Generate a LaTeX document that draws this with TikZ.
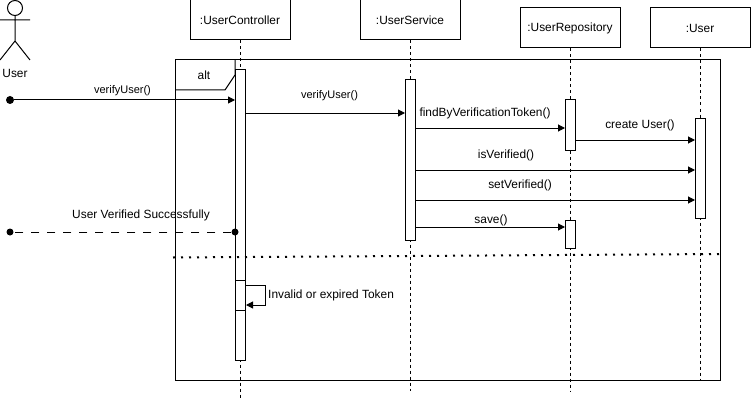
\documentclass[tikz,border=0pt]{standalone}
\usepackage{fontspec}
\setmainfont{Liberation Sans}
\usetikzlibrary{arrows.meta}
\tikzset{
  ln/.style={draw=black,line width=1pt},
  box/.style={ln,fill=white,minimum width=100pt,minimum height=40pt,inner sep=0pt,font=\fontsize{11.9pt}{14pt}\selectfont},
  act/.style={ln,fill=white,minimum width=10pt,inner sep=0pt},
  life/.style={draw=black,line width=1pt,dash pattern=on 3pt off 3pt},
  msg/.style={ln,-{Triangle[length=7pt,width=7pt]}},
  lbl/.style={inner sep=0pt,font=\fontsize{11.9pt}{14pt}\selectfont},
  slbl/.style={inner sep=0pt,font=\fontsize{11pt}{13pt}\selectfont},
  dot/.style={circle,fill=black,inner sep=0pt,minimum size=8pt}
}
\begin{document}
\begin{tikzpicture}[x=1pt,y=-1pt]
\useasboundingbox (0,0) rectangle (751,401);
\fill[white] (0,0) rectangle (751,401);
% frame
\draw[ln] (175,60) rectangle (720,380);
% lifelines
\node[box] (uc) at (240,20) {:UserController};
\node[box] (us) at (410,20) {:UserService};
\node[box] (ur) at (570,28) {:UserRepository};
\node[box] (um) at (700,28) {:User};
\coordinate (ucend) at (240,398);
\coordinate (usend) at (410,391);
\coordinate (urend) at (570,391);
\coordinate (umend) at (700,380);
\draw[life] (uc) -- (ucend);
\draw[life] (us) -- (usend);
\draw[life] (ur) -- (urend);
\draw[life] (um) -- (umend);
% alt tab
\draw[ln] (175,90) -- (225,90) -- (235,75) -- (235,60);
\node[lbl] (alt) at (204,75) {alt};
% actor
\draw[ln] (15,8) circle (7.5);
\draw[ln] (15,15.5) -- (15,41) (0,20) -- (30,20) (0,60) -- (15,41) -- (30,60);
\node[lbl] (actor) at (15,73) {User};
% activations
\node[act,minimum height=290pt] (a1) at (240,215) {};
\node[act,minimum height=30pt] (a1b) at (240,295) {};
\node[act,minimum height=160pt] (a2) at (410,160) {};
\node[act,minimum height=50pt] (a3) at (570,125) {};
\node[act,minimum height=28pt] (a3b) at (570,234) {};
\node[act,minimum height=100pt] (a4) at (700,168) {};
% messages
\node[dot] (d1) at (10,100) {};
\coordinate (a1in) at (235,100);
\draw[msg] (d1) -- (a1in);
\node[slbl] (l1) at (122.5,91) {verifyUser()};
\coordinate (a1o) at (245,113);
\coordinate (a2i) at (405,113);
\draw[msg] (a1o) -- (a2i);
\node[slbl] (l2) at (329.5,96) {verifyUser()};
\coordinate (a2o1) at (415,128);
\coordinate (a3i1) at (565,128);
\draw[msg] (a2o1) -- (a3i1);
\node[lbl] (l3) at (485,113) {findByVerificationToken()};
\coordinate (a3o) at (575,140);
\coordinate (a4i1) at (695,140);
\draw[msg] (a3o) -- (a4i1);
\node[lbl] (l4) at (640,125) {create User()};
\coordinate (a2o2) at (415,170);
\coordinate (a4i2) at (695,170);
\draw[msg] (a2o2) -- (a4i2);
\node[lbl] (l5) at (506,155) {isVerified()};
\coordinate (a2o3) at (415,200);
\coordinate (a4i3) at (695,200);
\draw[msg] (a2o3) -- (a4i3);
\node[lbl] (l6) at (520,185) {setVerified()};
\coordinate (a2o4) at (415,227);
\coordinate (a3i2) at (565,227);
\draw[msg] (a2o4) -- (a3i2);
\node[lbl] (l7) at (491,220) {save()};
% return
\node[dot,minimum size=7pt] (d2) at (10,232) {};
\node[dot,minimum size=7pt] (d3) at (235,232) {};
\draw[ln,dash pattern=on 8pt off 8pt] (d3) -- (d2);
\node[lbl] (l8) at (141,215) {User Verified Successfully};
% separator
\coordinate (s1) at (173,257.5);
\coordinate (s2) at (720,254);
\draw[line width=2pt,dash pattern=on 2pt off 6pt] (s1) -- (s2);
% self
\coordinate (se1) at (245,285);
\coordinate (se2) at (265.5,285);
\coordinate (se3) at (265.5,305);
\coordinate (se4) at (246,305);
\draw[msg] (se1) -- (se2) -- (se3) -- (se4);
\node[lbl,anchor=west] (l9) at (268,295) {Invalid or expired Token};
\end{tikzpicture}
\end{document}
